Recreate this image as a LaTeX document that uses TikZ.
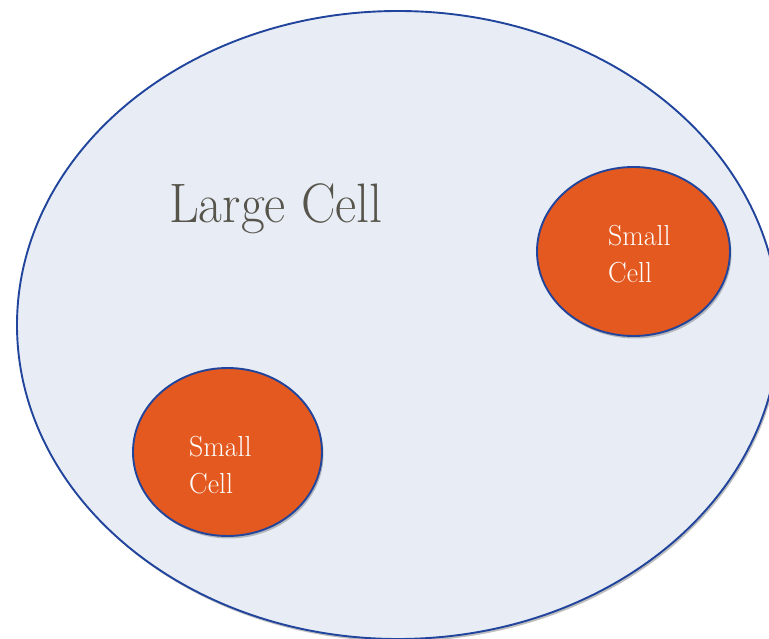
\documentclass[tikz,border=0pt]{standalone}
\usepackage{fontspec}
\usetikzlibrary{shapes.geometric,shadows}
\definecolor{cellfill}{HTML}{E8EDF5}
\definecolor{cellline}{HTML}{21449C}
\definecolor{smallfill}{HTML}{E3591F}
\definecolor{titlegray}{HTML}{56544B}
\tikzset{
  bigcell/.style={ellipse, draw=cellline, line width=1.9pt, fill=cellfill, inner sep=0pt,
    drop shadow={opacity=0.5, shadow xshift=1.5pt, shadow yshift=-2.5pt}},
  smallcell/.style={ellipse, draw=cellline, line width=1.9pt, fill=smallfill, inner sep=0pt,
    drop shadow={opacity=0.5, shadow xshift=1.5pt, shadow yshift=-2.5pt}},
  smalltext/.style={anchor=base west, inner sep=0pt, text=white, font=\fontsize{29}{34}\selectfont},
  bigtext/.style={anchor=base west, inner sep=0pt, text=titlegray, font=\fontsize{55.6}{60}\selectfont}
}
\begin{document}
\begin{tikzpicture}[x=1pt,y=-1pt]
\useasboundingbox (0,0) rectangle (769,639);
\clip (0,0) rectangle (769,639);
\fill[white] (0,0) rectangle (769,639);
\node[bigcell, minimum width=762pt, minimum height=628pt] (large) at (398,325) {};
\node[bigtext] (largelabel) at (169,223) {\scalebox{0.93}[1]{Large Cell}};
\node[smallcell, minimum width=193pt, minimum height=169pt] (smallA) at (633.5,251.5) {};
\node[smalltext] (smallAl1) at (608,246) {\scalebox{0.96}[1]{Small}};
\node[smalltext] (smallAl2) at (608,283) {\scalebox{0.96}[1]{Cell}};
\node[smallcell, minimum width=189pt, minimum height=168pt] (smallB) at (227.5,452) {};
\node[smalltext] (smallBl1) at (189,456) {\scalebox{0.96}[1]{Small}};
\node[smalltext] (smallBl2) at (189,493) {\scalebox{0.96}[1]{Cell}};
\end{tikzpicture}
\end{document}
